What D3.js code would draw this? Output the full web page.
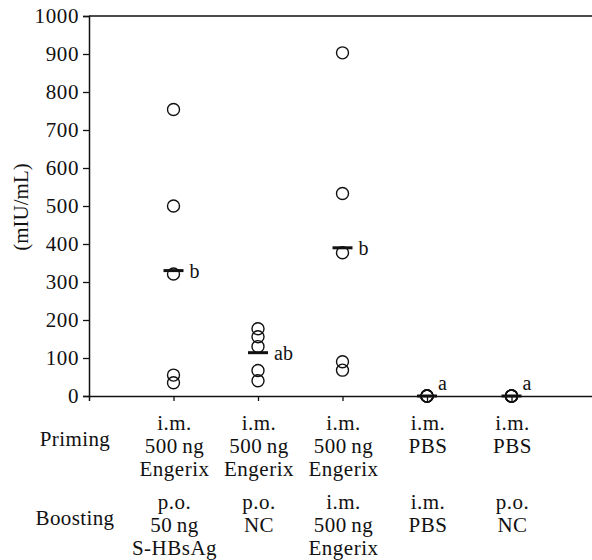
<!DOCTYPE html>
<html>
<head>
<meta charset="utf-8">
<script src="https://cdn.jsdelivr.net/npm/d3@7"></script>
<style>
  body { margin: 0; background: #fff; }
  svg text { font-family: "Liberation Serif", "Times New Roman", serif; fill: #111; }
</style>
</head>
<body>
<div id="chart"></div>
<script>
// data
var groups = [1, 2, 3, 4, 5];
var titres = [
    [754, 500, 321, 55, 35],
    [177, 156, 130, 67, 40],
    [903, 533, 377, 90, 68],
    [0, 0, 0, 0, 0],
    [0, 0, 0, 0, 0]
];
var means = [330, 114, 390, 0, 0];
var letters = ["b", "ab", "b", "a", "a"];
var yTicks = [0, 100, 200, 300, 400, 500, 600, 700, 800, 900, 1000];
var priming = [
    ["i.m.", "500\u2009ng", "Engerix"],
    ["i.m.", "500\u2009ng", "Engerix"],
    ["i.m.", "500\u2009ng", "Engerix"],
    ["i.m.", "PBS"],
    ["i.m.", "PBS"]
];
var boosting = [
    ["p.o.", "50\u2009ng", "S-HBsAg"],
    ["p.o.", "NC"],
    ["i.m.", "500\u2009ng", "Engerix"],
    ["i.m.", "PBS"],
    ["p.o.", "NC"]
];

var svgWidth = 592;
var svgHeight = 560;

var svg = d3.select("#chart")
    .append("svg")
    .attr("width", svgWidth)
    .attr("height", svgHeight);

// scales
var x = d3.scaleLinear().domain([0, 6]).range([89, 596]);
var y = d3.scaleLinear().domain([0, 1000]).range([396, 16]);

// y axis
var yAxis = svg.append("g")
    .attr("transform", `translate(${x(0)}, 0)`)
    .call(d3.axisLeft(y).tickValues(yTicks).tickSize(6).tickPadding(4).tickFormat(d3.format("d")));
yAxis.select(".domain").attr("stroke", "#111").attr("stroke-width", 1.5);
yAxis.selectAll(".tick line").attr("stroke", "#111").attr("stroke-width", 1.3);
yAxis.selectAll(".tick text")
    .style("font-size", "21px")
    .style("letter-spacing", "0.6px")
    .style("font-family", "Liberation Serif, serif")
    .attr("fill", "#111");

// x axis (bottom) with ticks at the groups
var xAxis = svg.append("g")
    .attr("transform", `translate(0, ${y(0)})`)
    .call(d3.axisBottom(x).tickValues(groups).tickSize(5).tickFormat(""));
xAxis.select(".domain").attr("stroke", "#111").attr("stroke-width", 1.5);
xAxis.selectAll(".tick line").attr("stroke", "#111").attr("stroke-width", 1.3);

// top frame line
svg.append("line")
    .attr("x1", x(0)).attr("x2", x(6))
    .attr("y1", y(1000)).attr("y2", y(1000))
    .attr("stroke", "#111")
    .attr("stroke-width", 1.5);

// y title
svg.append("text")
    .attr("transform", `translate(28, 207) rotate(-90)`)
    .attr("text-anchor", "middle")
    .style("font-size", "21px")
    .text("(mIU/mL)");

// points
var points = [];
titres.forEach(function(vals, i) {
    vals.forEach(function(v) { points.push({g: groups[i], v: v}); });
});

svg.append("g").selectAll("circle")
    .data(points)
    .enter()
    .append("circle")
    .attr("cx", d => x(d.g))
    .attr("cy", d => y(d.v))
    .attr("r", 6)
    .attr("fill", "none")
    .attr("stroke", "#111")
    .attr("stroke-width", 1.4);

// mean bars
svg.append("g").selectAll("line")
    .data(means)
    .enter()
    .append("line")
    .attr("x1", (d, i) => x(groups[i]) - 10)
    .attr("x2", (d, i) => x(groups[i]) + 10)
    .attr("y1", d => y(d))
    .attr("y2", d => y(d))
    .attr("stroke", "#111")
    .attr("stroke-width", 3);

// significance letters
svg.append("g").selectAll("text")
    .data(means)
    .enter()
    .append("text")
    .attr("x", (d, i) => x(groups[i]) + (d < 20 ? 11 : 16))
    .attr("y", d => Math.min(y(d) + 7, y(0) - 6))
    .style("font-size", "20px")
    .text((d, i) => letters[i]);

// condition table
function drawRow(label, rows, top) {
    svg.append("text")
        .attr("x", 75)
        .attr("y", top + 16)
        .attr("text-anchor", "middle")
        .style("font-size", "21px")
        .style("letter-spacing", "0.4px")
        .text(label);

    rows.forEach(function(lines, i) {
        svg.append("text")
            .attr("text-anchor", "middle")
            .style("font-size", "21px")
            .style("letter-spacing", "0.5px")
            .selectAll("tspan")
            .data(lines)
            .enter()
            .append("tspan")
            .attr("x", x(groups[i]) + 1)
            .attr("y", (d, j) => top + j * 23)
            .text(d => d);
    });
}

drawRow("Priming", priming, 430);
drawRow("Boosting", boosting, 509);
</script>
</body>
</html>
